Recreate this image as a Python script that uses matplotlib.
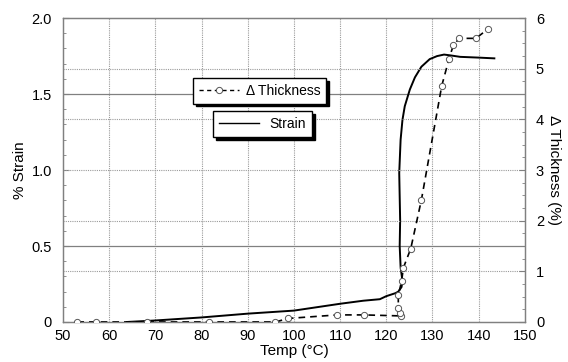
import matplotlib
matplotlib.use("Agg")
import matplotlib.pyplot as plt
from matplotlib.lines import Line2D
import numpy as np

plt.rcParams['font.family'] = ['Liberation Sans', 'DejaVu Sans']

# Strain curve (% strain vs temperature)
strain_temp = [63.8, 70, 80, 90, 100, 110, 115, 118.6, 120, 122, 122.6, 123.3, 123.5,
               123.1, 122.9, 123.0, 122.8, 123.1, 123.5, 124.0, 125.1, 126.2, 127.6,
               129.4, 131.0, 132.5, 133.8, 136, 140, 143.4]
strain_val = [0.0, 0.01, 0.03, 0.055, 0.075, 0.12, 0.14, 0.15, 0.17, 0.19, 0.2, 0.23, 0.27,
              0.36, 0.5, 0.67, 0.98, 1.2, 1.33, 1.42, 1.53, 1.61, 1.68,
              1.73, 1.75, 1.76, 1.755, 1.745, 1.74, 1.735]

# Thickness change (%) vs temperature
thick_temp = [53.1, 57.2, 68.2, 81.6, 96.0, 98.7, 109.4, 115.2, 123.2, 122.9, 122.6,
              122.6, 123.3, 123.7, 125.3, 127.6, 132.0, 133.6, 134.5, 135.8, 139.4, 142.1]
thick_val = [0.0, 0.0, 0.0, 0.0, 0.0, 0.07, 0.14, 0.14, 0.12, 0.18, 0.27,
             0.53, 0.8, 1.07, 1.45, 2.41, 4.66, 5.2, 5.46, 5.6, 5.6, 5.79]

x_ticks = [50, 60, 70, 80, 90, 100, 110, 120, 130, 140, 150]
y_ticks = [0, 0.5, 1.0, 1.5, 2.0]
y_ticklabels = ['0', '0.5', '1.0', '1.5', '2.0']
y2_ticks = [0, 1, 2, 3, 4, 5, 6]

fig = plt.figure(figsize=(5.68, 3.62), dpi=100)
ax = fig.add_axes([0.111, 0.1105, 0.813, 0.8395])
ax2 = ax.twinx()

ax.set_xlim(50, 150)
ax.set_ylim(0, 2.0)
ax2.set_ylim(0, 6)

grid_col = '#9a9a9a'
for xv in x_ticks[1:-1]:
    ax.axvline(xv, color=grid_col, lw=0.8, ls=(0, (1, 1)), zorder=0)
for yv in [0.5, 1.5]:
    ax.axhline(yv, color='#808080', lw=0.9, zorder=0)
for yv in y2_ticks[1:-1]:
    ax2.axhline(yv, color=grid_col, lw=0.8, ls=(0, (1, 1)), zorder=0)

ax.plot(strain_temp, strain_val, color='black', lw=1.4, zorder=3)
ax2.plot(thick_temp, thick_val, color='black', lw=1.2, ls=(0, (4, 3)),
         marker='o', ms=4.5, mfc='white', mec='#555555', mew=0.7, zorder=3)

ax.set_xticks(x_ticks)
ax.set_yticks(y_ticks)
ax.set_yticklabels(y_ticklabels)
ax.set_yticks(np.arange(0, 2.01, 0.1), minor=True)
ax2.set_yticks(y2_ticks)
ax2.set_yticks(np.arange(0, 6.01, 0.25), minor=True)

for a in (ax, ax2):
    a.tick_params(direction='in', colors='#808080', labelcolor='black', labelsize=10.5, length=4)
    a.tick_params(which='minor', direction='in', colors='#808080', length=2.5)
    for s in a.spines.values():
        s.set_color('#808080')
        s.set_linewidth(0.9)
ax.tick_params(axis='x', length=0, pad=5)
ax.tick_params(axis='y', pad=8)
ax2.tick_params(axis='y', pad=8)

ax.set_xlabel('Temp (°C)', fontsize=11, labelpad=1)
ax.set_ylabel('% Strain', fontsize=11, labelpad=3)
ax2.set_ylabel('Δ Thickness (%)', fontsize=11, rotation=270, labelpad=12)

shadow = {'color': 'black', 'alpha': 1.0}
h1 = Line2D([], [], color='black', lw=1.0, ls=(0, (3, 2.5)), marker='o', ms=4.5,
            mfc='white', mec='#555555', mew=0.7)
leg1 = fig.legend([h1], ['Δ Thickness'], loc='center', bbox_to_anchor=(0.457, 0.749),
                  frameon=True, fancybox=False, edgecolor='black', framealpha=1,
                  fontsize=10, handlelength=2.9, handletextpad=0.5, borderpad=0.42,
                  borderaxespad=0, numpoints=1, shadow=shadow)
leg1.get_frame().set_linewidth(1.0)
h2 = Line2D([], [], color='black', lw=1.0)
leg2 = fig.legend([h2], ['Strain'], loc='center', bbox_to_anchor=(0.462, 0.657),
                  frameon=True, fancybox=False, edgecolor='black', framealpha=1,
                  fontsize=10, handlelength=2.9, handletextpad=0.7, borderpad=0.45,
                  borderaxespad=0, shadow=shadow)
leg2.get_frame().set_linewidth(1.0)

fig.savefig('out.png', dpi=100)
